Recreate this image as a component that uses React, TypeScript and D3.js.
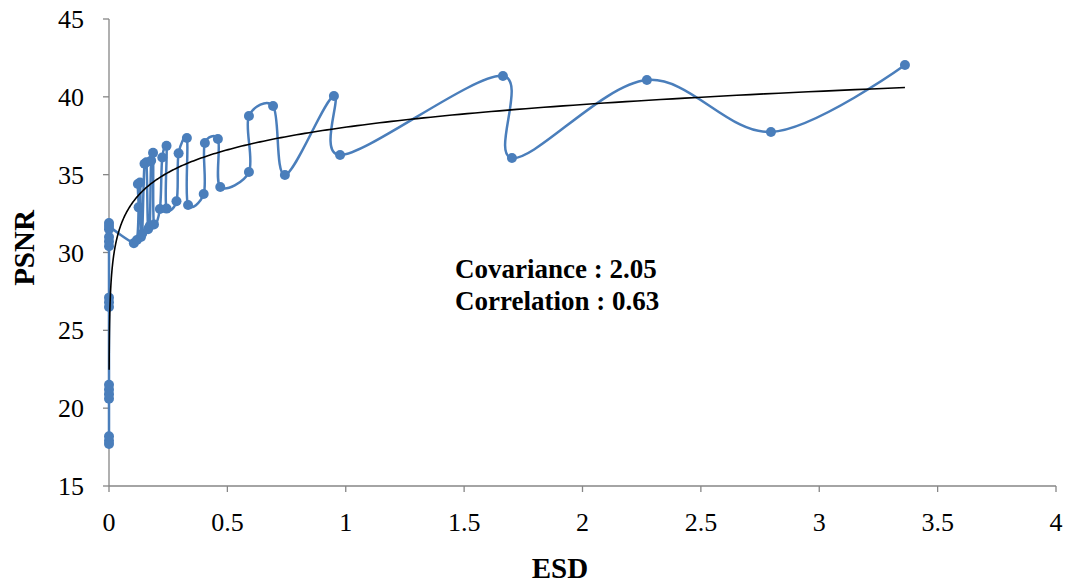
import React from "react";
import * as d3 from "d3";

// ESD / PSNR pairs, in series order
const esdValues = [
  0, 0, 0, 0, 0, 0, 0, 0, 0, 0, 0, 0, 0, 0, 0, 0,
  0.105, 0.118, 0.125, 0.122, 0.131, 0.135, 0.14, 0.15, 0.158, 0.165, 0.172,
  0.178, 0.186, 0.19, 0.215, 0.225, 0.243, 0.243, 0.285, 0.294, 0.329, 0.334,
  0.4, 0.405, 0.46, 0.47, 0.591, 0.591, 0.693, 0.743, 0.95, 0.976, 1.664,
  1.702, 2.272, 2.796, 3.362,
];
const psnrValues = [
  17.7, 17.9, 18.2, 20.6, 20.9, 21.2, 21.5, 26.5, 26.8, 27.1, 30.4, 30.7, 31.0,
  31.5, 31.9, 31.7,
  30.6, 30.8, 32.9, 34.4, 34.5, 31.0, 31.2, 35.7, 35.8, 31.5, 31.7,
  35.9, 36.4, 31.8, 32.8, 36.1, 36.85, 32.82, 33.29, 36.37, 37.35, 33.05,
  33.76, 37.03, 37.29, 34.21, 35.17, 38.77, 39.41, 34.98, 40.05, 36.26, 41.34,
  36.07, 41.08, 37.74, 42.04,
];

const xTicks = [0, 0.5, 1, 1.5, 2, 2.5, 3, 3.5, 4];
const yTicks = [15, 20, 25, 30, 35, 40, 45];

// Logarithmic trend: PSNR = a * ln(ESD) + b
const trendA = 2.1;
const trendB = 38.05;
const trendRange = [0.0006, 3.362];

const statLines = ["Covariance : 2.05", "Correlation : 0.63"];

const W = 1067;
const H = 585;
const plot = { left: 109, right: 1056, top: 19, bottom: 486 };
const axisColor = "#868686";
const seriesColor = "#4a7ebb";
const serif = "'Liberation Serif', 'Times New Roman', serif";

export default function App() {
  const x = d3.scaleLinear().domain([0, 4]).range([plot.left, plot.right]);
  const y = d3.scaleLinear().domain([15, 45]).range([plot.bottom, plot.top]);

  const points = esdValues.map((e, i) => [e, psnrValues[i]] as [number, number]);

  const seriesPath =
    d3
      .line<[number, number]>()
      .x((d) => x(d[0]))
      .y((d) => y(d[1]))
      .curve(d3.curveCatmullRom.alpha(0.15))(points) || "";

  const trendPts: [number, number][] = [];
  const n = 400;
  const l0 = Math.log(trendRange[0]);
  const l1 = Math.log(trendRange[1]);
  for (let i = 0; i <= n; i++) {
    const xv = Math.exp(l0 + ((l1 - l0) * i) / n);
    trendPts.push([xv, trendA * Math.log(xv) + trendB]);
  }
  const trendPath =
    d3
      .line<[number, number]>()
      .x((d) => x(d[0]))
      .y((d) => y(d[1]))(trendPts) || "";

  return (
    <svg
      width={W}
      height={H}
      style={{ position: "absolute", left: 0, top: 0, background: "#fff" }}
    >
      {/* axes */}
      <line x1={plot.left} x2={plot.left} y1={plot.top} y2={plot.bottom} stroke={axisColor} strokeWidth={1.3} />
      <line x1={plot.left} x2={plot.right} y1={plot.bottom} y2={plot.bottom} stroke={axisColor} strokeWidth={1.3} />
      {yTicks.map((t) => (
        <g key={"y" + t}>
          <line x1={plot.left - 6} x2={plot.left} y1={y(t)} y2={y(t)} stroke={axisColor} strokeWidth={1.3} />
          <text
            x={84}
            y={y(t)}
            dy="0.35em"
            textAnchor="end"
            fontFamily={serif}
            fontSize={26}
            fill="#000"
          >
            {t}
          </text>
        </g>
      ))}
      {xTicks.map((t) => (
        <g key={"x" + t}>
          <line x1={x(t)} x2={x(t)} y1={plot.bottom} y2={plot.bottom + 6} stroke={axisColor} strokeWidth={1.3} />
          <text
            x={x(t)}
            y={531}
            textAnchor="middle"
            fontFamily={serif}
            fontSize={26}
            fill="#000"
          >
            {t}
          </text>
        </g>
      ))}

      {/* series */}
      <path d={seriesPath} fill="none" stroke={seriesColor} strokeWidth={2.5} strokeLinejoin="round" />
      {points.map((d, i) => (
        <circle key={i} cx={x(d[0])} cy={y(d[1])} r={5} fill={seriesColor} />
      ))}

      {/* trendline */}
      <path d={trendPath} fill="none" stroke="#000" strokeWidth={1.6} />

      {/* statistics */}
      {statLines.map((s, i) => (
        <text
          key={s}
          x={455}
          y={278 + i * 32}
          fontFamily={serif}
          fontWeight="bold"
          fontSize={27}
          fill="#000"
        >
          {s}
        </text>
      ))}

      {/* axis titles */}
      <text
        x={560}
        y={578}
        textAnchor="middle"
        fontFamily={serif}
        fontWeight="bold"
        fontSize={29}
        fill="#000"
      >
        ESD
      </text>
      <text
        transform="translate(34, 248) rotate(-90)"
        textAnchor="middle"
        fontFamily={serif}
        fontWeight="bold"
        fontSize={29}
        fill="#000"
      >
        PSNR
      </text>
    </svg>
  );
}
